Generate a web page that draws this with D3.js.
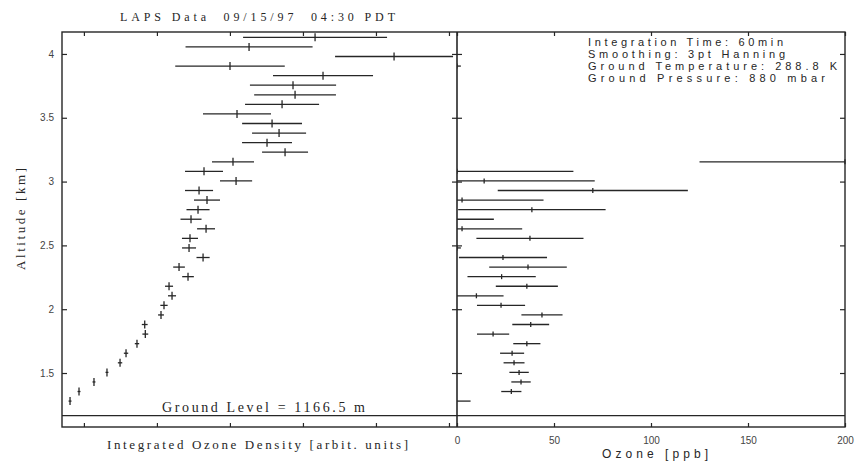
<!DOCTYPE html>
<html><head><meta charset="utf-8">
<script src="https://cdn.jsdelivr.net/npm/d3@7"></script>
<style>body{margin:0;background:#fff}</style>
</head><body><svg id="c" width="858" height="462"></svg>
<script>
// Altitude bins [km] (bottom to top)
const altitudes = [1.28, 1.355, 1.43, 1.505, 1.58, 1.655, 1.73, 1.805, 1.88, 1.955,
  2.03, 2.105, 2.18, 2.255, 2.33, 2.405, 2.48, 2.555, 2.63, 2.705,
  2.78, 2.855, 2.93, 3.005, 3.08, 3.155, 3.23, 3.305, 3.38, 3.455,
  3.53, 3.605, 3.68, 3.755, 3.83, 3.905, 3.98, 4.055, 4.13];
// Integrated ozone density (arbitrary units) and error
const densityValues = [-19, -6.7, 13.8, 31.6, 49.5, 57.7, 72.7, 84.1, 83.3, 105.6,
  109.7, 120.7, 116.6, 142.6, 130.3, 163.2, 144, 145.3, 167.3, 146.7,
  156.3, 168.6, 157.7, 208.4, 164.5, 204.2, 275.5, 250.8, 267.3, 257.7,
  209.7, 271.4, 289.2, 286.4, 327.5, 200.1, 424.8, 226.2, 316.6];
const densityErrors = [2, 2, 2, 2, 3, 3, 3, 4, 4, 4,
  5, 5.5, 5.5, 8, 8, 9, 9.6, 11, 12.3, 14.4,
  15.8, 17.8, 19.2, 22, 26, 28.8, 31.5, 34.2, 37, 41,
  46.6, 50.7, 56, 59, 68.5, 75, 80.8, 87, 98.6];
// Ozone [ppb] and error (null = no retrieval)
const ozoneValues = [-1, 28, 33, 32, 29.4, 28.4, 36, 18.6, 38, 43.8,
  22.7, 10, 36, 23, 36.6, 23.7, 0, 37.6, 2.6, -8,
  38.6, 2.6, 70, 14, 0, 200, null, null, null, null,
  null, null, null, null, null, 0, null, null, null];
const ozoneErrors = [8, 5.2, 5, 5, 5.4, 6.2, 7, 8.3, 9.5, 10.6,
  12.4, 14, 16, 17.6, 20, 22.7, 2, 27.6, 31, 27,
  38, 42, 49, 57, 60, 75, null, null, null, null,
  null, null, null, null, null, 2, null, null, null];

const altitudeTicks = [1.5, 2, 2.5, 3, 3.5, 4];
const altitudeTickLabels = ["1.5", "2", "2.5", "3", "3.5", "4"];
const densityTicks = [0, 100, 200, 300, 400, 500];
const ozoneTicks = [0, 50, 100, 150, 200];
const ozoneTickLabels = ["0", "50", "100", "150", "200"];
const groundLevelKm = 1.1665;
const infoLines = ["Integration Time: 60min", "Smoothing: 3pt Hanning",
  "Ground Temperature: 288.8 K", "Ground Pressure: 880 mbar"];

const INK = "#262626";
const svg = d3.select("#c");
const T = 32, B = 427, L0 = 62, DIV = 457, R1 = 845;
const y = d3.scaleLinear().domain([1.077, 4.172]).range([B, T]);
const xL = d3.scaleLinear().domain([-30, 511]).range([L0, DIV]);
const xR = d3.scaleLinear().domain([0, 200]).range([DIV, R1]);

const defs = svg.append("defs");
defs.append("clipPath").attr("id", "clipL").append("rect")
  .attr("x", L0).attr("y", T).attr("width", DIV - L0).attr("height", B - T);
defs.append("clipPath").attr("id", "clipR").append("rect")
  .attr("x", DIV).attr("y", T).attr("width", R1 - DIV + 3).attr("height", B - T);

function drawBars(clip, xs, vals, errs, mk) {
  const data = altitudes.map((a, i) => ({a, v: vals[i], e: errs[i]})).filter(d => d.v !== null);
  const g = svg.append("g").attr("clip-path", `url(#${clip})`)
    .attr("stroke", INK).attr("stroke-width", 1.3);
  g.selectAll("line.h").data(data).join("line").attr("class", "h")
    .attr("x1", d => xs(d.v - d.e)).attr("x2", d => Math.min(xs(d.v + d.e), xs.range()[1]))
    .attr("y1", d => y(d.a)).attr("y2", d => y(d.a));
  g.selectAll("line.v").data(data).join("line").attr("class", "v")
    .attr("x1", d => xs(d.v)).attr("x2", d => xs(d.v))
    .attr("y1", d => y(d.a) - mk).attr("y2", d => y(d.a) + mk);
}
drawBars("clipL", xL, densityValues, densityErrors, 4);
drawBars("clipR", xR, ozoneValues, ozoneErrors, 2.5);

// ground line
svg.append("line").attr("x1", L0).attr("x2", R1)
  .attr("y1", y(groundLevelKm)).attr("y2", y(groundLevelKm))
  .attr("stroke", INK).attr("stroke-width", 1.4);

// frames
svg.append("rect").attr("x", L0).attr("y", T).attr("width", R1 - L0).attr("height", B - T)
  .attr("fill", "none").attr("stroke", INK).attr("stroke-width", 1.4);
svg.append("line").attr("x1", DIV).attr("x2", DIV).attr("y1", T).attr("y2", B)
  .attr("stroke", INK).attr("stroke-width", 1.6);

function styleAxis(g) {
  g.select(".domain").remove();
  g.selectAll(".tick line").attr("stroke", INK).attr("stroke-width", 1.2);
  g.selectAll(".tick text").attr("fill", "#444")
    .attr("font-family", "'Liberation Sans', Arial, sans-serif").attr("font-size", 10);
}
svg.append("g").attr("transform", `translate(${L0},0)`)
  .call(d3.axisLeft(y).tickValues(altitudeTicks).tickFormat((d, i) => altitudeTickLabels[i])
    .tickSize(-5).tickPadding(8)).call(styleAxis);
svg.append("g").attr("transform", `translate(${DIV},0)`)
  .call(d3.axisRight(y).tickValues(altitudeTicks).tickFormat("").tickSize(-5)).call(styleAxis);
svg.append("g").attr("transform", `translate(${DIV},0)`)
  .call(d3.axisLeft(y).tickValues(altitudeTicks).tickFormat("").tickSize(-5)).call(styleAxis);
svg.append("g").attr("transform", `translate(${R1},0)`)
  .call(d3.axisRight(y).tickValues(altitudeTicks).tickFormat("").tickSize(-5)).call(styleAxis);
svg.append("g").attr("transform", `translate(0,${T})`)
  .call(d3.axisTop(xL).tickValues(densityTicks).tickFormat("").tickSize(-4)).call(styleAxis);
svg.append("g").attr("transform", `translate(0,${B})`)
  .call(d3.axisBottom(xL).tickValues(densityTicks).tickFormat("").tickSize(-4)).call(styleAxis);
svg.append("g").attr("transform", `translate(0,${T})`)
  .call(d3.axisTop(xR).tickValues(ozoneTicks).tickFormat("").tickSize(-4)).call(styleAxis);
svg.append("g").attr("transform", `translate(0,${B})`)
  .call(d3.axisBottom(xR).tickValues(ozoneTicks).tickFormat((d, i) => ozoneTickLabels[i])
    .tickSize(-4).tickPadding(10)).call(styleAxis);

const SERIF = "'Liberation Serif', 'Times New Roman', serif";
const SANS = "'Liberation Sans', Arial, sans-serif";
function txt(s, x, yy, size, fam, len, anchor) {
  return svg.append("text").attr("x", x).attr("y", yy).text(s)
    .attr("font-size", size).attr("font-family", fam).attr("fill", INK)
    .attr("text-anchor", anchor || "start")
    .attr("textLength", len).attr("lengthAdjust", "spacing");
}
txt("LAPS Data  09/15/97  04:30 PDT", 120, 21, 12, SERIF, 275).style("white-space", "pre");
txt("Ground Level = 1166.5 m", 162, 412, 14, SERIF, 203);
txt("Integrated Ozone Density [arbit. units]", 107, 449, 13, SERIF, 301);
txt("Ozone [ppb]", 602, 458, 12, SANS, 106);
svg.append("text").attr("transform", "translate(25,219) rotate(-90)")
  .attr("text-anchor", "middle").attr("font-size", 13).attr("font-family", SERIF)
  .attr("fill", INK).attr("textLength", 102).attr("lengthAdjust", "spacing")
  .text("Altitude [km]");
const infoLen = [195, 197, 249, 237];
infoLines.forEach((s, i) => txt(s, 588, 46 + i * 12, 11, SANS, infoLen[i]));
</script>
</body></html>
